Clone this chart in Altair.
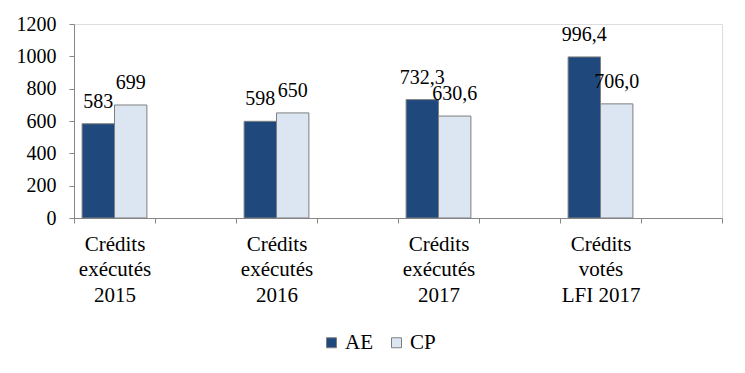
import altair as alt
import pandas as pd

categories = ["Crédits|exécutés|2015", "Crédits|exécutés|2016",
              "Crédits|exécutés|2017", "Crédits|votés|LFI 2017"]
spacers = ["_1", "_2", "_3", "_4"]
series = ["AE", "CP"]
ae_values = [583, 598, 732.3, 996.4]
cp_values = [699, 650, 630.6, 706.0]
ae_labels = ["583", "598", "732,3", "996,4"]
cp_labels = ["699", "650", "630,6", "706,0"]
y_ticks = [0, 200, 400, 600, 800, 1000, 1200]

rows = []
for c, a, b, la, lb in zip(categories, ae_values, cp_values, ae_labels, cp_labels):
    rows.append({"cat": c, "serie": "AE", "value": a, "label": la})
    rows.append({"cat": c, "serie": "CP", "value": b, "label": lb})
df = pd.DataFrame(rows)

domain = []
for c, s in zip(categories, spacers):
    domain += [c, s]

FONT = "Liberation Serif"

x_enc = alt.X("cat:N", scale=alt.Scale(domain=domain, paddingInner=0, paddingOuter=0),
              axis=alt.Axis(title=None, labelAngle=0, tickBand="extent", tickSize=5,
                            labelExpr="indexof(datum.label,'_')==0 ? '' : split(datum.label,'|')",
                            labelLineHeight=25.5, labelPadding=10, labelBaseline="top",
                            labelFont=FONT, labelFontSize=21, labelColor="#000000",
                            labelOverlap=False,
                            domainColor="#868686", tickColor="#868686"))
xo_enc = alt.XOffset("serie:N", scale=alt.Scale(domain=series, paddingInner=0, paddingOuter=0.25))
y_enc = alt.Y("value:Q", scale=alt.Scale(domain=[0, 1200], nice=False),
              axis=alt.Axis(title=None, values=y_ticks, grid=False, tickSize=5, format="d",
                            labelOverlap=False,
                            labelFont=FONT, labelFontSize=20, labelColor="#000000",
                            labelPadding=13,
                            domainColor="#868686", tickColor="#868686"))

base = alt.Chart(df)

bars = base.mark_bar(stroke="#7F7F7F", strokeWidth=1).encode(
    x=x_enc,
    xOffset=xo_enc,
    y=y_enc,
    color=alt.Color("serie:N", scale=alt.Scale(domain=series, range=["#1F497D", "#DCE6F2"]),
                    legend=alt.Legend(title=None, orient="none", direction="horizontal",
                                      legendX=247, legendY=308, padding=0,
                                      symbolType="square", symbolSize=100,
                                      symbolStrokeColor="#7F7F7F", symbolStrokeWidth=1,
                                      symbolOpacity=1, labelOffset=3, columnPadding=13,
                                      labelFont=FONT, labelFontSize=21, labelColor="#000000")),
)

texts = base.mark_text(font=FONT, fontSize=20, color="#000000", baseline="alphabetic",
                       dy=-16).encode(
    x=x_enc,
    xOffset=xo_enc,
    y=y_enc,
    text=alt.Text("label:N"),
)

chart = (bars + texts).properties(
    width=648, height=194,
    autosize=alt.AutoSizeParams(type="none"),
    padding={"left": 66, "top": 16, "right": 15, "bottom": 140},
).configure_view(stroke=None).configure(font=FONT)

chart.save("out.html", embed_options={"renderer": "svg", "actions": False})
